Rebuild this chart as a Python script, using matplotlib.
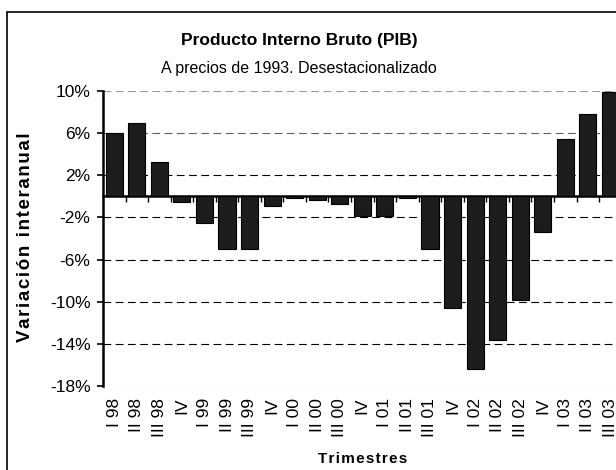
import numpy as np
import matplotlib
matplotlib.use("Agg")
import matplotlib.pyplot as plt
from matplotlib.patches import Rectangle
import matplotlib.transforms as mtransforms

plt.rcParams['font.family'] = ['Liberation Sans', 'DejaVu Sans']

trimestres = ["I 98", "II 98", "III 98", "IV",
              "I 99", "II 99", "III 99", "IV",
              "I 00", "II 00", "III 00", "IV",
              "I 01", "II 01", "III 01", "IV",
              "I 02", "II 02", "III 02", "IV",
              "I 03", "II 03", "III 03"]
variacion = [6.0, 7.0, 3.3, -0.5,
             -2.5, -5.0, -5.0, -0.9,
             -0.2, -0.35, -0.7, -1.9,
             -1.9, -0.2, -5.0, -10.6,
             -16.4, -13.6, -9.8, -3.4,
             5.4, 7.8, 9.9]
yticks = [-18, -14, -10, -6, -2, 2, 6, 10]

W, H = 616, 470
fig = plt.figure(figsize=(W / 100, H / 100), dpi=100)

# marco del grafico (cortado a la derecha y abajo)
fig.patches.append(Rectangle((7 / W, -0.2), 1.5, 0.2 + 1 - 12 / H,
                             transform=fig.transFigure, fill=False,
                             edgecolor='black', lw=1.2))

x0, x1 = 103, 103 + 23 * 22.55
ytop, ybot = 91, 386
ax = fig.add_axes([x0 / W, 1 - ybot / H, (x1 - x0) / W, (ybot - ytop) / H])

x = np.arange(len(variacion))
ax.bar(x, variacion, width=0.76, color='#1c1c1c', edgecolor='black',
       lw=0.8, zorder=3)

ax.set_xlim(-0.5, len(variacion) - 0.5)
ax.set_ylim(-18, 10)
ax.set_yticks(yticks)
ax.set_yticklabels([f"{v}%" for v in yticks], fontsize=12.5)
ax.tick_params(axis='y', direction='out', length=4, width=1.2, pad=5)

ax.set_xticks(np.arange(0.5, len(variacion) - 0.5, 1))
ax.set_xticklabels([])
ax.tick_params(axis='x', direction='out', length=4, width=1.0)

ax.spines['bottom'].set_position(('data', 0))
ax.spines['bottom'].set_linewidth(1.8)
ax.spines['left'].set_linewidth(1.8)
ax.spines['top'].set_visible(False)
ax.spines['right'].set_visible(False)

ax.yaxis.grid(True, linestyle=(0, (7, 4)), color='black', lw=0.8, zorder=0)
ax.set_axisbelow(True)
gl = ax.yaxis.get_gridlines()
gl[0].set_linestyle('-')
gl[0].set_color('#c0c0c0')
gl[-1].set_color('#9a9a9a')
gl[-2].set_color('#606060')

trans = mtransforms.blended_transform_factory(ax.transData, ax.transAxes)
for i, lab in enumerate(trimestres):
    ax.text(i, -0.04, lab, transform=trans, rotation=90, ha='center',
            va='top', fontsize=12.5)

hs = '\u200a'
fig.text(299 / W, 1 - 40 / H, "Producto Interno Bruto (PIB)",
         ha='center', va='center', fontsize=12.5, fontweight='bold')
fig.text(299 / W, 1 - 68 / H, "A precios de 1993. Desestacionalizado",
         ha='center', va='center', fontsize=11.5)
fig.text(25.5 / W, 1 - 237.5 / H, hs.join("Variación interanual"),
         ha='center', va='center', rotation=90, fontsize=13.5,
         fontweight='bold')
fig.text((x0 + x1) / 2 / W, 1 - 459 / H, hs.join("Trimestres"),
         ha='center', va='center', fontsize=11, fontweight='bold')

fig.savefig("out.png", dpi=100)
